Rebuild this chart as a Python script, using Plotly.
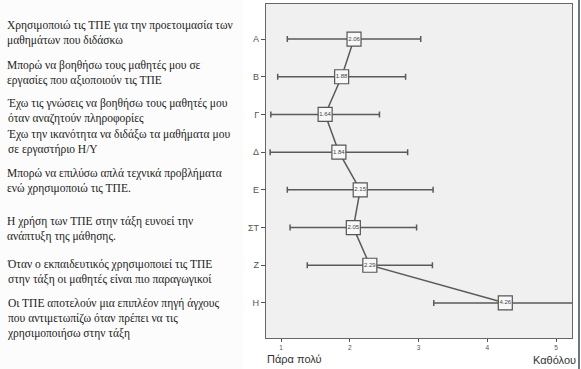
import plotly.graph_objects as go

categories = ["Α", "Β", "Γ", "Δ", "Ε", "ΣΤ", "Ζ", "Η"]
means = [2.06, 1.88, 1.64, 1.84, 2.15, 2.05, 2.29, 4.26]
errors = [0.97, 0.93, 0.79, 1.00, 1.06, 0.92, 0.91, 1.04]
mean_labels = ["2.06", "1.88", "1.64", "1.84", "2.15", "2.05", "2.29", "4.26"]
statements = [
    "Χρησιμοποιώ τις ΤΠΕ για την προετοιμασία των<br>μαθημάτων που διδάσκω",
    "Μπορώ να βοηθήσω τους μαθητές μου σε<br>εργασίες που αξιοποιούν τις ΤΠΕ",
    "Έχω τις γνώσεις να βοηθήσω τους μαθητές μου<br>όταν αναζητούν πληροφορίες",
    "Έχω την ικανότητα να διδάξω τα μαθήματα μου<br>σε εργαστήριο Η/Υ",
    "Μπορώ να επιλύσω απλά τεχνικά προβλήματα<br>ενώ χρησιμοποιώ τις ΤΠΕ.",
    "Η χρήση των ΤΠΕ στην τάξη ευνοεί την<br>ανάπτυξη της μάθησης.",
    "Όταν ο εκπαιδευτικός χρησιμοποιεί τις ΤΠΕ<br>στην τάξη οι μαθητές είναι πιο παραγωγικοί",
    "Οι ΤΠΕ αποτελούν μια επιπλέον πηγή άγχους<br>που αντιμετωπίζω όταν πρέπει να τις<br>χρησιμοποιήσω στην τάξη",
]
statement_tops = [17, 57, 95, 126, 165, 213, 256, 295]
x_ticks = [1, 2, 3, 4, 5]
x_left_label = "Πάρα πολύ"
x_right_label = "Καθόλου"

W, H = 581, 369
fig = go.Figure()
fig.add_trace(go.Scatter(
    x=means, y=categories,
    mode="lines+markers+text",
    line=dict(color="#5a5a5a", width=1.5),
    marker=dict(symbol="square", size=14, color="#f8f8f8",
                line=dict(color="#555555", width=1.2)),
    text=mean_labels, textposition="middle center",
    textfont=dict(size=6, color="#444444", family="Liberation Sans Narrow, Arial"),
    error_x=dict(type="data", array=errors, color="#5a5a5a", thickness=1.5, width=3),
    cliponaxis=True,
    hoverinfo="skip",
    showlegend=False,
))

for txt, top in zip(statements, statement_tops):
    fig.add_annotation(
        x=5 / W, y=1 - top / H, xref="paper", yref="paper",
        xanchor="left", yanchor="top", align="left",
        text=txt, showarrow=False,
        font=dict(family="Liberation Serif, serif", size=11.5, color="#222222"),
    )

fig.add_annotation(x=265 / W, y=1 - 351 / H, xref="paper", yref="paper",
                   xanchor="left", yanchor="top", text=x_left_label, showarrow=False,
                   font=dict(family="Liberation Sans Narrow, Arial", size=11, color="#333333"))
fig.add_annotation(x=578 / W, y=1 - 352 / H, xref="paper", yref="paper",
                   xanchor="right", yanchor="top", text=x_right_label, showarrow=False,
                   font=dict(family="Liberation Sans Narrow, Arial", size=11, color="#333333"))

# background panel for the text area and right border line
fig.add_shape(type="rect", xref="paper", yref="paper", x0=0, x1=243 / W, y0=0, y1=1,
              fillcolor="#fcfcfc", line=dict(width=0), layer="below")
fig.add_shape(type="line", xref="paper", yref="paper", x0=579 / W, x1=579 / W, y0=0, y1=1,
              line=dict(color="#3a4a5a", width=1.5))

fig.update_layout(
    width=W, height=H,
    margin=dict(l=0, r=0, t=0, b=0, autoexpand=False),
    paper_bgcolor="white",
    plot_bgcolor="#f0f0f0",
    xaxis=dict(
        domain=[266 / W, 572 / W], range=[0.78, 5.23], automargin=False,
        tickvals=x_ticks, ticks="outside", ticklen=3, tickcolor="#555555",
        ticklabelstandoff=0,
        tickfont=dict(size=6.5, color="#555555", family="Liberation Sans Narrow, Arial"),
        showgrid=False, zeroline=False,
        showline=True, linecolor="#666666", linewidth=1.2, mirror=True,
    ),
    yaxis=dict(
        domain=[1 - 338 / H, 1 - 4 / H], range=[7.93, -0.93], automargin=False,
        type="category", categoryorder="array", categoryarray=categories,
        ticks="outside", ticklen=4, tickcolor="#555555",
        tickfont=dict(size=9, color="#555555", family="Liberation Sans Narrow, Arial"),
        showgrid=False, zeroline=False,
        showline=True, linecolor="#666666", linewidth=1.2, mirror=True,
    ),
)

fig.write_html(
    "out.html",
    config={"displayModeBar": False},
    post_script="document.body.style.margin='0';document.body.style.overflow='hidden';",
)
